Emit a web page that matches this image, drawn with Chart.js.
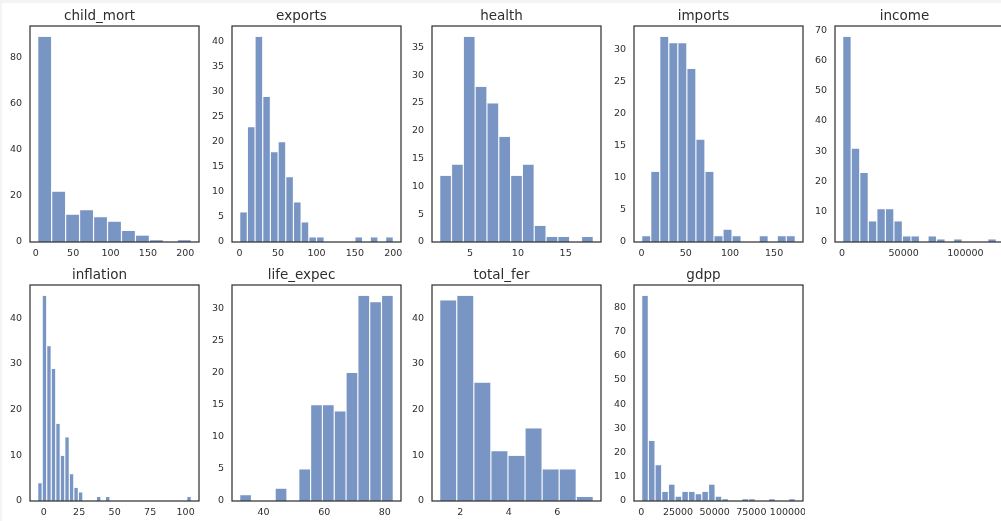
<!DOCTYPE html>
<html>
<head>
<meta charset="utf-8">
<script src="https://cdn.jsdelivr.net/npm/chart.js@4.4.1/dist/chart.umd.min.js"></script>
<style>
  html, body { margin: 0; padding: 0; overflow: hidden; background: #f4f4f4; width: 1001px; height: 521px; }
  #page { position: absolute; left: 2px; top: 3px; right: 0; bottom: 0; background: #ffffff; }
  canvas { position: absolute; }
</style>
</head>
<body>
<div id="page"></div>
<script>
// ---------------- data ----------------
const childMortRange = [2.6, 208];
const childMortCounts = [89, 22, 12, 14, 11, 9, 5, 3, 1, 0, 1];
const childMortXTicks = [0, 50, 100, 150, 200];
const childMortYTicks = [0, 20, 40, 60, 80];

const exportsRange = [0.109, 200];
const exportsCounts = [6, 23, 41, 29, 18, 20, 13, 8, 4, 1, 1, 0, 0, 0, 0, 1, 0, 1, 0, 1];
const exportsXTicks = [0, 50, 100, 150, 200];
const exportsYTicks = [0, 5, 10, 15, 20, 25, 30, 35, 40];

const healthRange = [1.81, 17.9];
const healthCounts = [12, 14, 37, 28, 25, 19, 12, 14, 3, 1, 1, 0, 1];
const healthXTicks = [5, 10, 15];
const healthYTicks = [0, 5, 10, 15, 20, 25, 30, 35];

const importsRange = [0.0659, 174];
const importsCounts = [1, 11, 32, 31, 31, 27, 16, 11, 1, 2, 1, 0, 0, 1, 0, 1, 1];
const importsXTicks = [0, 50, 100, 150];
const importsYTicks = [0, 5, 10, 15, 20, 25, 30];

const incomeRange = [609, 125000];
const incomeCounts = [68, 31, 23, 7, 11, 11, 7, 2, 2, 0, 2, 1, 0, 1, 0, 0, 0, 1];
const incomeXTicks = [0, 50000, 100000];
const incomeYTicks = [0, 10, 20, 30, 40, 50, 60, 70];

const inflationRange = [-4.21, 104];
const inflationCounts = [4, 45, 34, 29, 17, 10, 14, 6, 3, 2, 0, 0, 0, 1, 0, 1, 0, 0, 0, 0, 0, 0, 0, 0, 0, 0, 0, 0, 0, 0, 0, 0, 0, 1];
const inflationXTicks = [0, 25, 50, 75, 100];
const inflationYTicks = [0, 10, 20, 30, 40];

const lifeExpecRange = [32.1, 82.8];
const lifeExpecCounts = [1, 0, 0, 2, 0, 5, 15, 15, 14, 20, 32, 31, 32];
const lifeExpecXTicks = [40, 60, 80];
const lifeExpecYTicks = [0, 5, 10, 15, 20, 25, 30];

const totalFerRange = [1.15, 7.49];
const totalFerCounts = [44, 45, 26, 11, 10, 16, 7, 7, 1];
const totalFerXTicks = [2, 4, 6];
const totalFerYTicks = [0, 10, 20, 30, 40];

const gdppRange = [231, 105000];
const gdppCounts = [85, 25, 15, 4, 7, 2, 4, 4, 3, 4, 7, 2, 1, 0, 0, 1, 1, 0, 0, 1, 0, 0, 1];
const gdppXTicks = [0, 25000, 50000, 75000, 100000];
const gdppYTicks = [0, 10, 20, 30, 40, 50, 60, 70, 80];

const panelTitles = ['child_mort', 'exports', 'health', 'imports', 'income',
                     'inflation', 'life_expec', 'total_fer', 'gdpp'];

// ---------------- layout / style ----------------
const panels = [
  { title: panelTitles[0], range: childMortRange, counts: childMortCounts, xt: childMortXTicks, yt: childMortYTicks, col: 0, row: 0 },
  { title: panelTitles[1], range: exportsRange, counts: exportsCounts, xt: exportsXTicks, yt: exportsYTicks, col: 1, row: 0 },
  { title: panelTitles[2], range: healthRange, counts: healthCounts, xt: healthXTicks, yt: healthYTicks, col: 2, row: 0 },
  { title: panelTitles[3], range: importsRange, counts: importsCounts, xt: importsXTicks, yt: importsYTicks, col: 3, row: 0 },
  { title: panelTitles[4], range: incomeRange, counts: incomeCounts, xt: incomeXTicks, yt: incomeYTicks, col: 4, row: 0 },
  { title: panelTitles[5], range: inflationRange, counts: inflationCounts, xt: inflationXTicks, yt: inflationYTicks, col: 0, row: 1 },
  { title: panelTitles[6], range: lifeExpecRange, counts: lifeExpecCounts, xt: lifeExpecXTicks, yt: lifeExpecYTicks, col: 1, row: 1 },
  { title: panelTitles[7], range: totalFerRange, counts: totalFerCounts, xt: totalFerXTicks, yt: totalFerYTicks, col: 2, row: 1 },
  { title: panelTitles[8], range: gdppRange, counts: gdppCounts, xt: gdppXTicks, yt: gdppYTicks, col: 3, row: 1 },
];

const colLefts = [0, 202, 402, 604, 805];
const rowTops = [4, 263];
const CANVAS_W = 201, CANVAS_H = 260;
const Y_AXIS_W = 30, X_AXIS_H = 22;
const TEXT = '#2e2e2e';
const FRAME = '#333333';
const BAR_FILL = '#7995c4';
const BAR_EDGE = '#eef2f8';

Chart.defaults.font.family = "'DejaVu Sans', sans-serif";
Chart.defaults.color = TEXT;

const framePlugin = {
  id: 'frame',
  afterDatasetsDraw(chart) {
    const a = chart.chartArea;
    const ctx = chart.ctx;
    ctx.save();
    ctx.strokeStyle = FRAME;
    ctx.lineWidth = 1.25;
    ctx.strokeRect(a.left, a.top, a.right - a.left, a.bottom - a.top);
    ctx.restore();
  }
};

panels.forEach(p => {
  const cv = document.createElement('canvas');
  cv.width = CANVAS_W; cv.height = CANVAS_H;
  cv.style.width = CANVAS_W + 'px'; cv.style.height = CANVAS_H + 'px';
  cv.style.left = colLefts[p.col] + 'px';
  cv.style.top = rowTops[p.row] + 'px';
  document.body.appendChild(cv);

  const n = p.counts.length;
  const lo = p.range[0], hi = p.range[1];
  const w = (hi - lo) / n;
  const points = p.counts.map((c, i) => ({ x: lo + (i + 0.5) * w, y: c }));
  const margin = (hi - lo) * 0.05;
  const yMax = Math.max(...p.counts) * 1.05;

  new Chart(cv, {
    type: 'bar',
    data: {
      datasets: [{
        data: points,
        backgroundColor: BAR_FILL,
        borderColor: BAR_EDGE,
        borderWidth: { left: 0.6, right: 0.6, top: 0.6, bottom: 0 },
        borderSkipped: false,
        barPercentage: 1,
        categoryPercentage: 1,
        inflateAmount: 0
      }]
    },
    options: {
      responsive: false,
      animation: false,
      events: [],
      layout: { padding: { left: 0, right: 2, top: 0, bottom: 0 } },
      plugins: {
        legend: { display: false },
        tooltip: { enabled: false },
        title: {
          display: true,
          text: p.title,
          color: TEXT,
          font: { size: 13.5, weight: 'normal' },
          padding: { top: 4, bottom: 1.8 }
        }
      },
      scales: {
        x: {
          type: 'linear',
          offset: false,
          min: lo - margin,
          max: hi + margin,
          grid: { display: false, drawTicks: false },
          border: { display: false },
          ticks: {
            padding: 6,
            autoSkip: false,
            maxRotation: 0,
            minRotation: 0,
            font: { size: 9.5 },
            color: TEXT,
            callback: v => String(v)
          },
          afterBuildTicks: s => { s.ticks = p.xt.map(v => ({ value: v })); },
          afterFit: s => { s.height = X_AXIS_H; s.paddingLeft = 0; s.paddingRight = 0; }
        },
        y: {
          type: 'linear',
          min: 0,
          max: yMax,
          grid: { display: false, drawTicks: false },
          border: { display: false },
          ticks: {
            padding: 8,
            font: { size: 9.5 },
            color: TEXT,
            callback: v => String(v)
          },
          afterBuildTicks: s => { s.ticks = p.yt.map(v => ({ value: v })); },
          afterFit: s => { s.width = Y_AXIS_W; s.paddingTop = 0; s.paddingBottom = 0; }
        }
      }
    },
    plugins: [framePlugin]
  });
});
</script>
</body>
</html>
